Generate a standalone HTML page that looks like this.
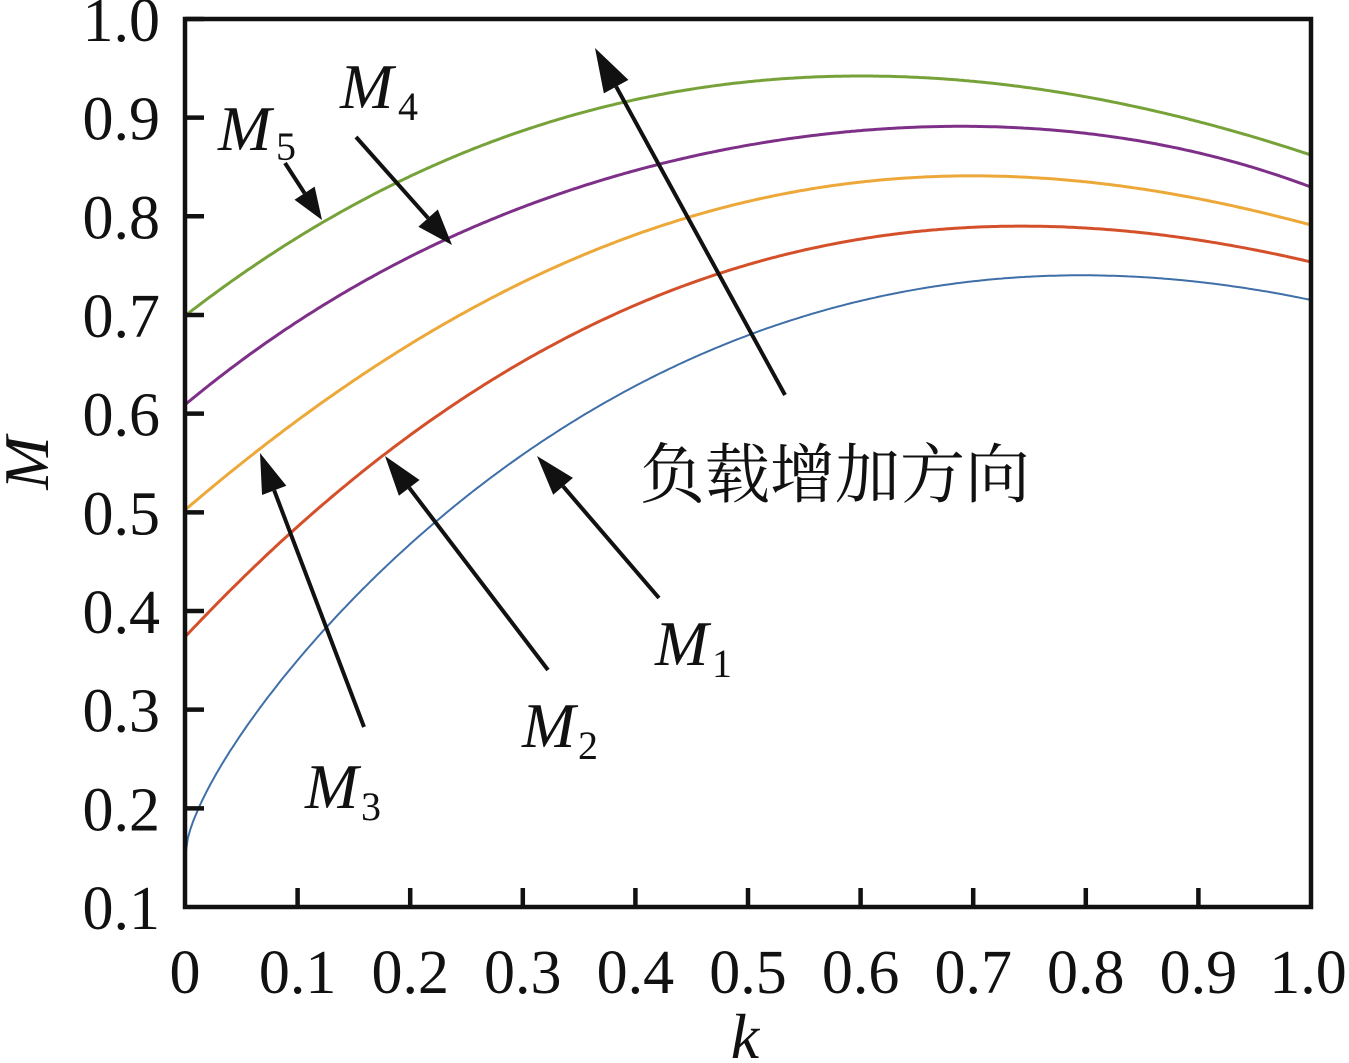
<!DOCTYPE html>
<html><head><meta charset="utf-8"><style>
html,body{margin:0;padding:0;background:#fff;}
svg{display:block;}
.t{font-family:"Liberation Serif",serif;font-size:62px;fill:#111;}
.i{font-family:"Liberation Serif",serif;font-style:italic;font-size:64px;fill:#111;}
.s{font-family:"Liberation Serif",serif;font-size:40px;fill:#111;}
</style></head><body>
<svg id="c" width="1349" height="1063" viewBox="0 0 1349 1063" xmlns="http://www.w3.org/2000/svg">
<g id="curves" fill="none"></g>
<rect x="185" y="19" width="1126" height="888" fill="none" stroke="#111" stroke-width="4.5"/>
<g id="ticks" stroke="#111" stroke-width="4.5"></g>
<g id="labels"></g>
<g id="arrows"></g>
<text class="i" x="340" y="108">M</text><text class="s" x="398" y="120">4</text>
<text class="i" x="218" y="150">M</text><text class="s" x="276" y="160">5</text>
<text class="i" x="655" y="665">M</text><text class="s" x="712" y="677">1</text>
<text class="i" x="522" y="747">M</text><text class="s" x="578" y="759">2</text>
<text class="i" x="305" y="808">M</text><text class="s" x="361" y="820">3</text>
<text x="640" y="497" style="font-family:'Noto Serif CJK SC','Noto Sans CJK SC',serif;font-size:65px;fill:#111;">负载增加方向</text>
<text class="i" x="745" y="1058" text-anchor="middle">k</text>
<text class="i" transform="translate(48,463) rotate(-90)" text-anchor="middle">M</text>
</svg>
<script>
var NS="http://www.w3.org/2000/svg";
function el(t,a,p){var e=document.createElementNS(NS,t);for(var k in a)e.setAttribute(k,a[k]);p.appendChild(e);return e;}
var SQ=true;
function basis(k){return [1,SQ?Math.sqrt(k):k*k*k*k,k,k*k,k*k*k];}
function solve(A,b){var n=b.length;for(var i=0;i<n;i++){var m=i;for(var r=i+1;r<n;r++)if(Math.abs(A[r][i])>Math.abs(A[m][i]))m=r;
var t=A[i];A[i]=A[m];A[m]=t;t=b[i];b[i]=b[m];b[m]=t;for(var r=i+1;r<n;r++){var f=A[r][i]/A[i][i];for(var c=i;c<n;c++)A[r][c]-=f*A[i][c];b[r]-=f*b[i];}}
var x=new Array(n);for(var i=n-1;i>=0;i--){var s=b[i];for(var c=i+1;c<n;c++)s-=A[i][c]*x[c];x[i]=s/A[i][i];}return x;}
function fit(pts){var n=5,A=[],b=[];for(var i=0;i<n;i++){A.push([0,0,0,0,0]);b.push(0);}
pts.forEach(function(p,idx){var k=(p[0]-185)/1126,y=p[1],f=basis(k),w=(idx==0||idx==pts.length-1)?20:1;
for(var i=0;i<n;i++){b[i]+=w*f[i]*y;for(var j=0;j<n;j++)A[i][j]+=w*f[i]*f[j];}});return solve(A,b);}
var C=document.getElementById("curves");
var data=[
["#3f6fa8",2,[[185,858],[221,767],[328,625],[435,518],[542,447],[649,380],[750,332],[900,291],[1065,277],[1311,300]],true],
["#d4502a",3,[[185,637],[289,533],[385,457],[492,380],[600,318],[750,264],[900,236],[1020,226],[1150,232],[1311,262]],false],
["#eda83a",3,[[185,510],[260,450],[356,380],[450,318],[600,249],[750,202],[900,178],[975,175],[1100,184],[1311,225]],false],
["#7e3088",3,[[185,405],[260,340],[350,286],[450,243],[600,184],[750,144],[900,123],[1000,126],[1150,148],[1311,187]],false],
["#77a23a",3,[[185,316],[220,288],[320,218],[410,178],[500,142],[600,110],[750,81],[870,72],[1000,84],[1150,113],[1311,155]],false]];
data.forEach(function(c){SQ=c[3];var co=fit(c[2]);var d="";for(var i=0;i<=400;i++){var k=i/400,f=basis(k),y=0;for(var j=0;j<5;j++)y+=co[j]*f[j];
d+=(i?"L":"M")+(185+k*1126).toFixed(1)+","+y.toFixed(1);}el("path",{d:d,stroke:c[0],"stroke-width":c[1]},C);});
var T=document.getElementById("ticks"),L=document.getElementById("labels");
for(var i=1;i<10;i++){var y=907-i*98.67;el("line",{x1:185,y1:y,x2:204,y2:y},T);var x=185+i*112.6;el("line",{x1:x,y1:907,x2:x,y2:888},T);}
for(var i=0;i<10;i++){var y=907-i*98.67;var t=el("text",{x:160,y:y+22,"class":"t","text-anchor":"end"},L);t.textContent=((i+1)/10).toFixed(1);}
for(var i=0;i<=10;i++){var x=185+i*112.6;var t=el("text",{x:i==10?1308:x,y:993,"class":"t","text-anchor":"middle"},L);t.textContent=i==0?"0":(i/10).toFixed(1);}
var A=document.getElementById("arrows");
function arrow(x1,y1,x2,y2,w,hl,hw){var dx=x2-x1,dy=y2-y1,l=Math.hypot(dx,dy),ux=dx/l,uy=dy/l;var bx=x2-ux*hl,by=y2-uy*hl;
el("line",{x1:x1,y1:y1,x2:bx,y2:by,stroke:"#111","stroke-width":w},A);
el("polygon",{points:x2+","+y2+" "+(bx-uy*hw)+","+(by+ux*hw)+" "+(bx+uy*hw)+","+(by-ux*hw),fill:"#111"},A);}
arrow(285,163,322,220,4,32,12);
arrow(356,137,452,245,4,36,13);
arrow(364,727,260,453,4,40,13);
arrow(548,670,385,456,4,40,13);
arrow(659,598,537,456,4,40,13);
arrow(785,395,595,48,4,44,14);
</script>
</body></html>
